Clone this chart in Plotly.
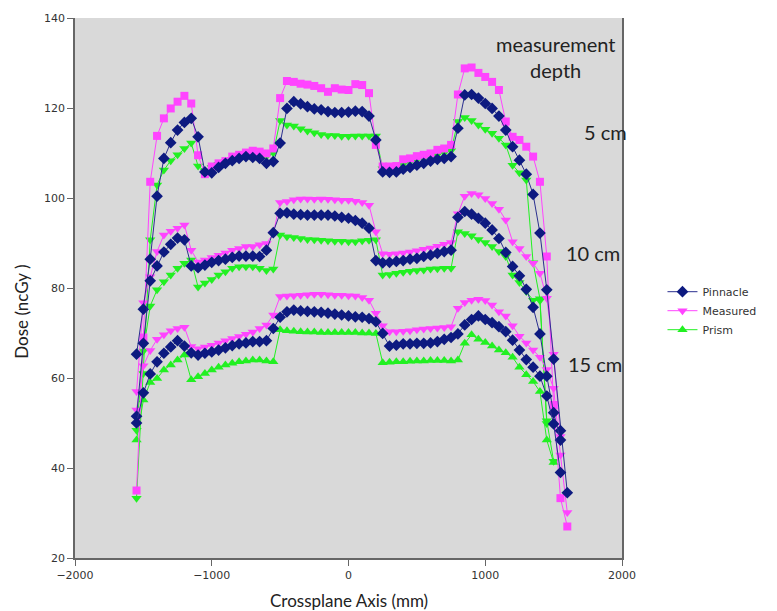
import plotly.graph_objects as go

# Crossplane positions (mm)
x_mm = [-1550, -1500, -1450, -1400, -1350, -1300, -1250, -1200,
        -1150, -1100, -1050, -1000, -950, -900, -850, -800,
        -750, -700, -650, -600, -550, -500, -450, -400,
        -350, -300, -250, -200, -150, -100, -50, 0,
        50, 100, 150, 200, 250, 300, 350, 400,
        450, 500, 550, 600, 650, 700, 750, 800,
        850, 900, 950, 1000, 1050, 1100, 1150, 1200,
        1250, 1300, 1350, 1400, 1450, 1500, 1550, 1600]

# ---- 5 cm depth ----
measured_5 = [35.0, 69.0, 103.6, 113.8, 117.7, 119.9, 121.4, 122.7,
              121.0, 109.5, 105.3, 107.0, 107.7, 108.2, 109.2, 109.6,
              110.1, 110.5, 110.3, 109.9, 111.0, 122.2, 126.0, 125.8,
              125.4, 125.2, 124.9, 124.4, 123.6, 124.4, 124.1, 124.0,
              125.3, 125.1, 123.3, 111.8, 107.0, 107.0, 107.1, 108.6,
              108.8, 109.3, 109.6, 109.9, 110.7, 111.0, 111.8, 123.0,
              128.8, 129.0, 127.8, 126.9, 125.8, 124.0, 117.0, 113.6,
              112.9, 111.4, 109.2, 103.6, 87.0, 54.0, 33.3, 27.0]
pinnacle_5 = [65.3, 75.3, 86.4, 100.4, 108.8, 112.3, 115.1, 116.8,
              117.7, 113.6, 105.8, 105.6, 106.8, 107.7, 108.3, 108.8,
              109.2, 109.0, 108.8, 107.7, 108.1, 112.2, 119.9, 121.4,
              120.9, 120.3, 119.8, 119.6, 119.2, 119.0, 119.0, 119.1,
              119.3, 119.2, 118.2, 112.9, 105.8, 105.7, 105.8, 106.4,
              106.8, 107.3, 107.7, 108.2, 108.6, 108.8, 109.2, 115.5,
              122.9, 123.0, 122.2, 121.0, 119.9, 118.2, 115.1, 111.4,
              108.4, 105.3, 100.8, 92.2, 79.6, 64.2, 48.3, 34.5]
prism_5 = [33.3, 61.0, 90.7, 102.9, 106.2, 108.3, 109.6, 111.0,
           112.2, 107.1, 106.0, 106.8, 107.5, 108.0, 108.5, 109.0,
           109.3, 109.5, 109.3, 109.2, 110.0, 117.2, 116.2, 116.0,
           115.4, 114.9, 114.5, 114.1, 113.9, 113.9, 113.7, 113.7,
           113.8, 113.8, 113.8, 113.8, 106.5, 106.8, 107.0, 107.5,
           108.0, 108.5, 108.8, 109.2, 109.6, 110.0, 110.5, 117.0,
           117.9, 117.2, 116.2, 115.3, 114.4, 113.3, 111.8, 107.3,
           105.6, 104.0, 85.6, 77.6, 50.5, 41.5, None, None]

# ---- 10 cm depth ----
measured_10 = [57.0, 76.7, 82.5, 88.1, 91.8, 92.6, 93.3, 94.0,
               88.4, 85.8, 86.2, 86.8, 87.3, 87.8, 88.4, 88.8,
               89.2, 89.2, 89.6, 89.9, 92.1, 99.0, 99.2, 99.6,
               99.8, 99.8, 99.7, 99.8, 99.7, 99.6, 99.5, 99.5,
               99.3, 99.0, 98.4, 92.5, 87.6, 87.5, 87.6, 87.8,
               88.0, 88.3, 88.6, 88.9, 89.3, 89.7, 90.1, 96.5,
               100.4, 101.0, 100.7, 99.9, 98.8, 97.5, 95.1, 90.3,
               88.8, 87.0, 85.5, 83.3, 77.7, 65.3, 47.0, None]
pinnacle_10 = [51.5, 67.7, 81.6, 84.9, 88.0, 89.7, 91.1, 90.7,
               84.9, 84.5, 85.1, 85.7, 86.1, 86.4, 86.8, 87.1,
               87.1, 87.1, 87.0, 88.4, 92.3, 96.6, 96.7, 96.4,
               96.3, 96.2, 96.2, 96.2, 96.2, 96.0, 95.7, 95.5,
               95.0, 94.4, 93.3, 86.1, 85.6, 85.7, 85.9, 86.1,
               86.4, 86.6, 87.0, 87.3, 87.7, 88.1, 88.4, 95.7,
               97.0, 96.4, 95.5, 94.4, 92.9, 91.0, 87.9, 84.8,
               82.7, 79.7, 75.7, 69.8, 60.4, 52.3, 46.2, None]
prism_10 = [48.4, 66.0, 76.0, 79.6, 81.4, 82.9, 84.4, 85.5,
            86.2, 80.2, 81.1, 81.9, 82.9, 83.6, 84.4, 84.7,
            84.7, 84.7, 84.4, 83.9, 84.2, 91.8, 91.4, 91.2,
            91.0, 90.8, 90.7, 90.6, 90.5, 90.4, 90.4, 90.3,
            90.3, 90.5, 90.6, 90.7, 82.9, 83.0, 83.3, 83.5,
            83.7, 83.9, 84.0, 84.2, 84.3, 84.4, 84.4, 92.5,
            92.1, 91.6, 90.8, 90.1, 89.2, 88.1, 87.0, 82.9,
            81.2, 79.2, 77.3, 77.2, 49.9, None, None, None]

# ---- 15 cm depth ----
measured_15 = [52.9, 62.7, 66.1, 68.6, 69.6, 70.5, 71.0, 71.3,
               67.0, 66.5, 66.9, 67.3, 67.8, 68.3, 68.8, 69.2,
               69.7, 70.2, 71.0, 71.8, 74.0, 78.1, 78.2, 78.3,
               78.4, 78.5, 78.6, 78.6, 78.5, 78.4, 78.4, 78.3,
               78.2, 77.9, 77.3, 74.4, 71.6, 70.3, 70.3, 70.4,
               70.5, 70.7, 70.9, 71.0, 71.1, 71.2, 71.4, 75.5,
               76.8, 77.3, 77.5, 77.2, 76.2, 74.7, 73.8, 71.6,
               69.3, 67.8, 66.2, 64.6, 61.9, 57.7, 42.9, 30.1]
pinnacle_15 = [50.0, 56.7, 60.9, 63.6, 65.5, 66.9, 68.3, 67.1,
               65.6, 65.1, 65.5, 65.8, 66.2, 66.7, 67.2, 67.6,
               67.8, 68.1, 68.1, 68.3, 71.0, 73.5, 74.7, 75.1,
               74.9, 74.8, 74.7, 74.6, 74.4, 74.2, 74.0, 73.8,
               73.6, 73.5, 73.2, 72.5, 69.9, 67.1, 67.3, 67.6,
               67.6, 67.7, 67.7, 67.8, 68.1, 68.6, 69.0, 69.8,
               71.8, 73.0, 73.8, 73.0, 72.3, 71.4, 70.3, 68.4,
               66.2, 64.1, 62.4, 60.4, 56.0, 49.8, 39.0, None]
prism_15 = [46.2, 55.1, 59.0, 59.9, 61.8, 62.9, 64.0, 65.1,
            59.6, 60.3, 61.0, 61.8, 62.4, 62.9, 63.3, 63.6,
            63.8, 64.0, 64.0, 63.8, 63.6, 70.7, 70.5, 70.4,
            70.3, 70.2, 70.2, 70.1, 70.1, 70.1, 70.1, 70.1,
            70.1, 70.0, 70.0, 69.9, 63.4, 63.5, 63.6, 63.6,
            63.7, 63.8, 63.8, 63.9, 63.9, 63.9, 63.8, 64.0,
            67.7, 69.6, 68.6, 67.9, 67.1, 66.2, 65.6, 64.6,
            62.4, 60.7, 59.2, 57.0, 46.2, 41.2, None, None]

depth_labels = ["5 cm", "10 cm", "15 cm"]

NAVY = "#0d1a80"
NAVY_LINE = "#2b2f8f"
MAGENTA = "#ff44ff"
GREEN = "#22f022"

fig = go.Figure()

def add(y, name, color, lcolor, symbol, size, legend, rank):
    fig.add_trace(go.Scatter(
        x=x_mm, y=y, name=name, mode="lines+markers", connectgaps=True,
        line=dict(color=lcolor, width=1),
        marker=dict(symbol=symbol, size=size, color=color, line=dict(width=0)),
        showlegend=legend, legendrank=rank, legendgroup=name))

# Prism (bottom layer)
add(prism_5, "Prism", GREEN, GREEN, "triangle-down", 9, False, 3)
add(prism_10, "Prism", GREEN, GREEN, "triangle-down", 9, False, 3)
add(prism_15, "Prism", GREEN, GREEN, "triangle-up", 9, True, 3)
# Measured
add(measured_5, "Measured", MAGENTA, MAGENTA, "square", 8, False, 2)
add(measured_10, "Measured", MAGENTA, MAGENTA, "triangle-down", 9, True, 2)
add(measured_15, "Measured", MAGENTA, MAGENTA, "triangle-down", 9, False, 2)
# Pinnacle (top)
add(pinnacle_5, "Pinnacle", NAVY, NAVY_LINE, "diamond", 9, False, 1)
add(pinnacle_10, "Pinnacle", NAVY, NAVY_LINE, "diamond", 9, True, 1)
add(pinnacle_15, "Pinnacle", NAVY, NAVY_LINE, "diamond", 9, False, 1)

TXT = "Lato, Open Sans, sans-serif"
ann_font = dict(family=TXT, size=20, color="#222")
annotations = [
    dict(x=0.879, y=0.928, xref="paper", yref="paper", text="measurement<br>depth",
         showarrow=False, font=ann_font, align="center", xanchor="center", yanchor="middle"),
    dict(x=0.5, y=-0.078, xref="paper", yref="paper", text="Crossplane Axis (mm)",
         showarrow=False, font=dict(family=TXT, size=17, color="#222"),
         xanchor="center", yanchor="middle"),
    dict(x=-0.097, y=0.456, xref="paper", yref="paper", text="Dose (ncGy )", textangle=-90,
         showarrow=False, font=dict(family=TXT, size=17, color="#222"),
         xanchor="center", yanchor="middle"),
]
label_pos = [(0.969, 0.789), (0.947, 0.565), (0.951, 0.359)]
for lab, (px, py) in zip(depth_labels, label_pos):
    annotations.append(dict(x=px, y=py, xref="paper", yref="paper", text=lab,
                            showarrow=False, font=ann_font, xanchor="center", yanchor="middle"))

fig.update_layout(
    width=777, height=611,
    margin=dict(l=67, r=163, t=10, b=61, autoexpand=False),
    paper_bgcolor="white", plot_bgcolor="#d9d9d9",
    font=dict(family="DejaVu Sans, sans-serif", size=11, color="#333"),
    legend=dict(x=1.074, y=0.52, xanchor="left", yanchor="top",
                font=dict(family="DejaVu Sans, sans-serif", size=11, color="#333"),
                bgcolor="rgba(0,0,0,0)", tracegroupgap=0),
    annotations=annotations,
)
fig.update_xaxes(range=[-2000, 2000], tickvals=[-2000, -1000, 0, 1000, 2000],
                 showgrid=False, zeroline=False, showline=True, linecolor="#666",
                 linewidth=1.5, mirror=False, ticks="outside", ticklen=6, tickcolor="#666",
                 automargin=False)
fig.update_yaxes(range=[20, 140], tickvals=[20, 40, 60, 80, 100, 120, 140],
                 showgrid=False, zeroline=False, showline=True, linecolor="#666",
                 linewidth=1.5, mirror=True, ticks="outside", ticklen=6, tickcolor="#666",
                 automargin=False)

fig.write_html("out.html")
